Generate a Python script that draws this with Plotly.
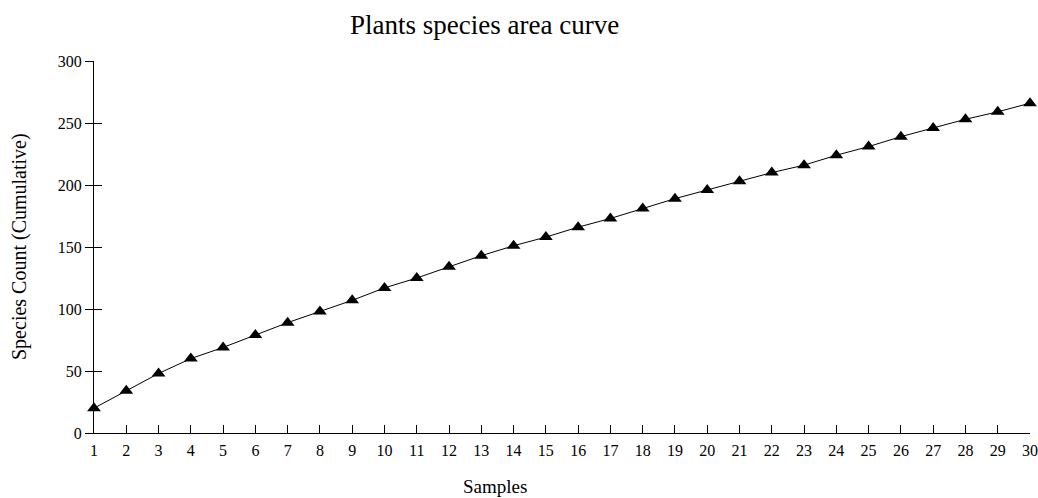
import plotly.graph_objects as go

samples = list(range(1, 31))
species_cumulative = [20, 34, 48, 60, 69, 79, 89, 98, 107, 117,
                      125, 134, 143, 151, 158, 166, 173, 181, 189, 196,
                      203, 210, 216, 224, 231, 239, 246, 253, 259, 266]
y_ticks = [0, 50, 100, 150, 200, 250, 300]

FONT = "Liberation Serif, Times New Roman, serif"

fig = go.Figure()
fig.add_trace(go.Scatter(
    x=samples, y=species_cumulative,
    mode="lines+markers",
    line=dict(color="black", width=1),
    marker=dict(symbol="triangle-up", size=12, color="black"),
    cliponaxis=False,
    showlegend=False,
))

axis_common = dict(showline=True, linecolor="black", linewidth=1,
                   showgrid=False, zeroline=False, tickcolor="black",
                   tickwidth=1, ticklen=8, automargin=False)

fig.update_layout(
    width=1038, height=498,
    margin=dict(l=94, r=8, t=61, b=65),
    paper_bgcolor="white", plot_bgcolor="white",
    font=dict(family=FONT, color="black", size=16),
    xaxis=dict(range=[1, 30], tickmode="array", tickvals=samples,
               ticks="inside", ticklabelstandoff=3, **axis_common),
    yaxis=dict(range=[0, 300], tickmode="array", tickvals=y_ticks,
               ticks="outside", **axis_common),
    # companion y axis draws the inner half of each crossing tick
    yaxis2=dict(range=[0, 300], overlaying="y", side="left", anchor="x",
                tickmode="array", tickvals=y_ticks, ticks="inside",
                showticklabels=False, **axis_common),
    annotations=[
        dict(text="Plants species area curve", xref="paper", yref="paper",
             x=0.4167, y=1.0, yshift=36, xanchor="center", yanchor="middle",
             showarrow=False, font=dict(size=27)),
        dict(text="Samples", xref="paper", yref="paper",
             x=0.428, y=0, yshift=-53, xanchor="center", yanchor="middle",
             showarrow=False, font=dict(size=19)),
        dict(text="Species Count (Cumulative)", xref="paper", yref="paper",
             x=0, xshift=-75, y=0.5, xanchor="center", yanchor="middle",
             textangle=-90, showarrow=False, font=dict(size=20)),
    ],
)

# transparent copy of the series on the companion axis so it is rendered
fig.add_trace(go.Scatter(x=samples, y=species_cumulative, xaxis="x", yaxis="y2",
                         mode="markers", marker=dict(opacity=0),
                         hoverinfo="skip", showlegend=False))

fig.write_html("out.html")
